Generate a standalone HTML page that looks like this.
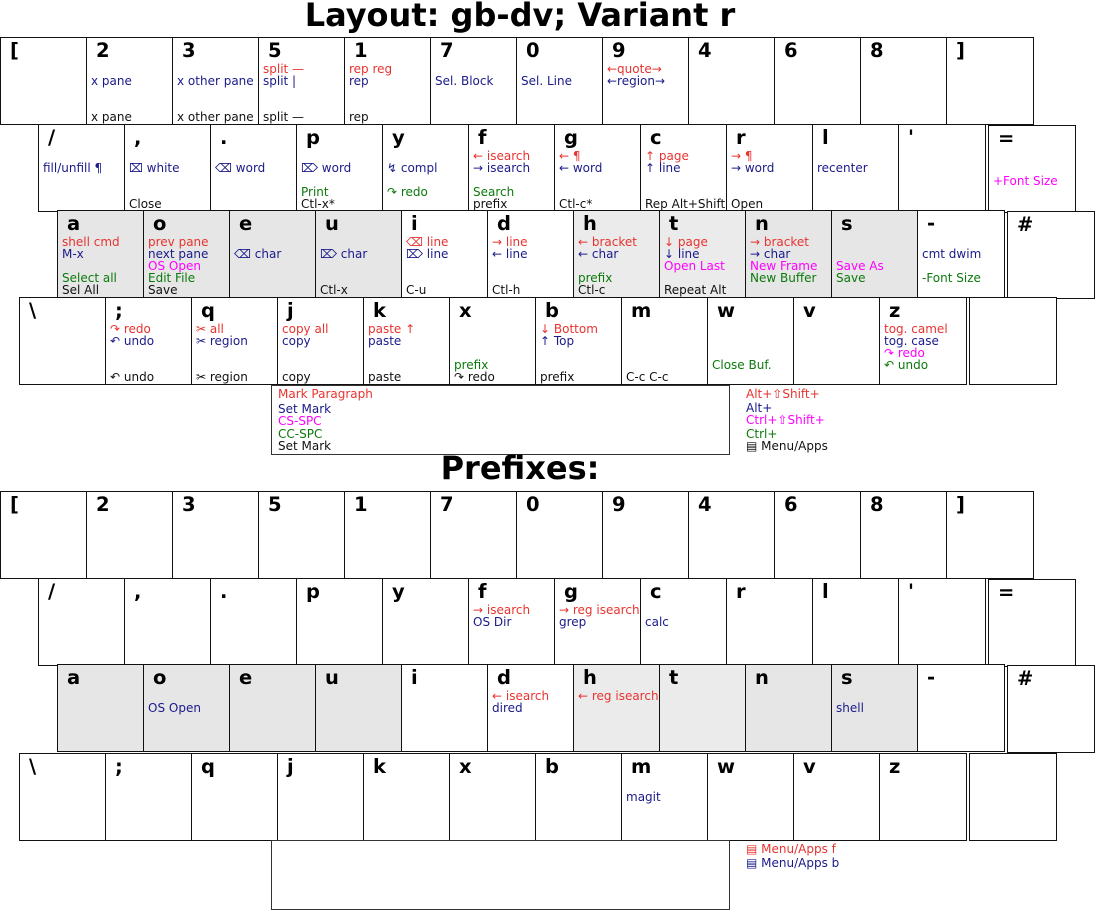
<!DOCTYPE html>
<html><head><meta charset="utf-8"><style>
body{margin:0;width:1096px;height:910px;background:#fff;position:relative;overflow:hidden;font-family:"DejaVu Sans","Liberation Sans",sans-serif}
.k{position:absolute;width:88px;height:88px;box-sizing:border-box;border:1.5px solid #111;background:#fff}
.gy{background:#e6e6e6}
.L{position:absolute;left:9px;top:0;font-weight:bold;font-size:19.5px;line-height:26px;color:#000}
.t{position:absolute;left:4px;font-size:12px;line-height:12px;white-space:nowrap}
.r{color:#e8332f}.b{color:#1a1a8a}.m{color:#f0f}.g{color:#0b7a0b}.x{color:#111}
.l1{top:25px}.l2{top:37px}.l3{top:49px}.l4{top:61px}.l5{top:73px}
.sp{position:absolute;left:271px;width:459px;height:70px;box-sizing:border-box;border:1px solid #333;background:#fff}
.a{position:absolute;font-size:12px;line-height:12px;white-space:nowrap}
h1{position:absolute;margin:0;left:0;width:1040px;text-align:center;font-size:32px;font-weight:bold;line-height:32px}
</style></head><body>
<h1 style="top:-1px">Layout: gb-dv; Variant r</h1>
<!-- KB1 row1 -->
<div class="k" style="left:0;top:37px"><span class="L">[</span></div>
<div class="k" style="left:86px;top:37px"><span class="L">2</span><span class="t b l2">x pane</span><span class="t x l5">x pane</span></div>
<div class="k" style="left:172px;top:37px"><span class="L">3</span><span class="t b l2">x other pane</span><span class="t x l5">x other pane</span></div>
<div class="k" style="left:258px;top:37px"><span class="L">5</span><span class="t r l1">split —</span><span class="t b l2">split |</span><span class="t x l5">split —</span></div>
<div class="k" style="left:344px;top:37px"><span class="L">1</span><span class="t r l1">rep reg</span><span class="t b l2">rep</span><span class="t x l5">rep</span></div>
<div class="k" style="left:430px;top:37px"><span class="L">7</span><span class="t b l2">Sel. Block</span></div>
<div class="k" style="left:516px;top:37px"><span class="L">0</span><span class="t b l2">Sel. Line</span></div>
<div class="k" style="left:602px;top:37px"><span class="L">9</span><span class="t r l1">←quote→</span><span class="t b l2">←region→</span></div>
<div class="k" style="left:688px;top:37px"><span class="L">4</span></div>
<div class="k" style="left:774px;top:37px"><span class="L">6</span></div>
<div class="k" style="left:860px;top:37px"><span class="L">8</span></div>
<div class="k" style="left:946px;top:37px"><span class="L">]</span></div>
<!-- row2 -->
<div class="k" style="left:38px;top:124px"><span class="L">/</span><span class="t b l2">fill/unfill ¶</span></div>
<div class="k" style="left:124px;top:124px"><span class="L">,</span><span class="t b l2">⌧ white</span><span class="t x l5">Close</span></div>
<div class="k" style="left:210px;top:124px"><span class="L">.</span><span class="t b l2">⌫ word</span></div>
<div class="k" style="left:296px;top:124px"><span class="L">p</span><span class="t b l2">⌦ word</span><span class="t g l4">Print</span><span class="t x l5">Ctl-x*</span></div>
<div class="k" style="left:382px;top:124px"><span class="L">y</span><span class="t b l2">↯ compl</span><span class="t g l4">↷ redo</span></div>
<div class="k" style="left:468px;top:124px"><span class="L">f</span><span class="t r l1">← isearch</span><span class="t b l2">→ isearch</span><span class="t g l4">Search</span><span class="t x l5">prefix</span></div>
<div class="k" style="left:554px;top:124px"><span class="L">g</span><span class="t r l1">← ¶</span><span class="t b l2">← word</span><span class="t x l5">Ctl-c*</span></div>
<div class="k" style="left:640px;top:124px"><span class="L">c</span><span class="t r l1">↑ page</span><span class="t b l2">↑ line</span><span class="t x l5">Rep Alt+Shift</span></div>
<div class="k" style="left:726px;top:124px"><span class="L">r</span><span class="t r l1">→ ¶</span><span class="t b l2">→ word</span><span class="t x l5">Open</span></div>
<div class="k" style="left:812px;top:124px"><span class="L">l</span><span class="t b l2">recenter</span></div>
<div class="k" style="left:898px;top:124px"><span class="L">'</span></div>
<div class="k" style="left:988px;top:125px"><span class="L">=</span><span class="t m l3">+Font Size</span></div>
<!-- row3 -->
<div class="k gy" style="left:57px;top:210px"><span class="L">a</span><span class="t r l1">shell cmd</span><span class="t b l2">M-x</span><span class="t g l4">Select all</span><span class="t x l5">Sel All</span></div>
<div class="k gy" style="left:143px;top:210px"><span class="L">o</span><span class="t r l1">prev pane</span><span class="t b l2">next pane</span><span class="t m l3">OS Open</span><span class="t g l4">Edit File</span><span class="t x l5">Save</span></div>
<div class="k gy" style="left:229px;top:210px"><span class="L">e</span><span class="t b l2">⌫ char</span></div>
<div class="k gy" style="left:315px;top:210px"><span class="L">u</span><span class="t b l2">⌦ char</span><span class="t x l5">Ctl-x</span></div>
<div class="k" style="left:401px;top:210px"><span class="L">i</span><span class="t r l1">⌫ line</span><span class="t b l2">⌦ line</span><span class="t x l5">C-u</span></div>
<div class="k" style="left:487px;top:210px"><span class="L">d</span><span class="t r l1">→ line</span><span class="t b l2">← line</span><span class="t x l5">Ctl-h</span></div>
<div class="k gy" style="left:573px;top:210px;background:#ebebeb"><span class="L">h</span><span class="t r l1">← bracket</span><span class="t b l2">← char</span><span class="t g l4">prefix</span><span class="t x l5">Ctl-c</span></div>
<div class="k gy" style="left:659px;top:210px;background:#ebebeb"><span class="L">t</span><span class="t r l1">↓ page</span><span class="t b l2">↓ line</span><span class="t m l3">Open Last</span><span class="t x l5">Repeat Alt</span></div>
<div class="k gy" style="left:745px;top:210px"><span class="L">n</span><span class="t r l1">→ bracket</span><span class="t b l2">→ char</span><span class="t m l3">New Frame</span><span class="t g l4">New Buffer</span></div>
<div class="k gy" style="left:831px;top:210px"><span class="L">s</span><span class="t m l3">Save As</span><span class="t g l4">Save</span></div>
<div class="k" style="left:917px;top:210px"><span class="L">-</span><span class="t b l2">cmt dwim</span><span class="t g l4">-Font Size</span></div>
<div class="k" style="left:1007px;top:211px"><span class="L">#</span></div>
<!-- row4 -->
<div class="k" style="left:19px;top:297px"><span class="L">\</span></div>
<div class="k" style="left:105px;top:297px"><span class="L">;</span><span class="t r l1">↷ redo</span><span class="t b l2">↶ undo</span><span class="t x l5">↶ undo</span></div>
<div class="k" style="left:191px;top:297px"><span class="L">q</span><span class="t r l1">✂ all</span><span class="t b l2">✂ region</span><span class="t x l5">✂ region</span></div>
<div class="k" style="left:277px;top:297px"><span class="L">j</span><span class="t r l1">copy all</span><span class="t b l2">copy</span><span class="t x l5">copy</span></div>
<div class="k" style="left:363px;top:297px"><span class="L">k</span><span class="t r l1">paste ↑</span><span class="t b l2">paste</span><span class="t x l5">paste</span></div>
<div class="k" style="left:449px;top:297px"><span class="L">x</span><span class="t g l4">prefix</span><span class="t x l5">↷ redo</span></div>
<div class="k" style="left:535px;top:297px"><span class="L">b</span><span class="t r l1">↓ Bottom</span><span class="t b l2">↑ Top</span><span class="t x l5">prefix</span></div>
<div class="k" style="left:621px;top:297px"><span class="L">m</span><span class="t x l5">C-c C-c</span></div>
<div class="k" style="left:707px;top:297px"><span class="L">w</span><span class="t g l4">Close Buf.</span></div>
<div class="k" style="left:793px;top:297px"><span class="L">v</span></div>
<div class="k" style="left:879px;top:297px"><span class="L">z</span><span class="t r l1">tog. camel</span><span class="t b l2">tog. case</span><span class="t m l3">↷ redo</span><span class="t g l4">↶ undo</span></div>
<div class="k" style="left:969px;top:297px"></div>
<div class="sp" style="top:385px"></div>
<div class="a r" style="left:278px;top:388px">Mark Paragraph</div>
<div class="a b" style="left:278px;top:403px">Set Mark</div>
<div class="a m" style="left:278px;top:415px">CS-SPC</div>
<div class="a g" style="left:278px;top:428px">CC-SPC</div>
<div class="a x" style="left:278px;top:440px">Set Mark</div>
<div class="a r" style="left:746px;top:388px">Alt+⇧Shift+</div>
<div class="a b" style="left:746px;top:402px">Alt+</div>
<div class="a m" style="left:746px;top:414px">Ctrl+⇧Shift+</div>
<div class="a g" style="left:746px;top:428px">Ctrl+</div>
<div class="a x" style="left:746px;top:440px">▤ Menu/Apps</div>

<h1 style="top:452px">Prefixes:</h1>
<!-- KB2 row1 -->
<div class="k" style="left:0;top:491px"><span class="L">[</span></div>
<div class="k" style="left:86px;top:491px"><span class="L">2</span></div>
<div class="k" style="left:172px;top:491px"><span class="L">3</span></div>
<div class="k" style="left:258px;top:491px"><span class="L">5</span></div>
<div class="k" style="left:344px;top:491px"><span class="L">1</span></div>
<div class="k" style="left:430px;top:491px"><span class="L">7</span></div>
<div class="k" style="left:516px;top:491px"><span class="L">0</span></div>
<div class="k" style="left:602px;top:491px"><span class="L">9</span></div>
<div class="k" style="left:688px;top:491px"><span class="L">4</span></div>
<div class="k" style="left:774px;top:491px"><span class="L">6</span></div>
<div class="k" style="left:860px;top:491px"><span class="L">8</span></div>
<div class="k" style="left:946px;top:491px"><span class="L">]</span></div>
<!-- row2 -->
<div class="k" style="left:38px;top:578px"><span class="L">/</span></div>
<div class="k" style="left:124px;top:578px"><span class="L">,</span></div>
<div class="k" style="left:210px;top:578px"><span class="L">.</span></div>
<div class="k" style="left:296px;top:578px"><span class="L">p</span></div>
<div class="k" style="left:382px;top:578px"><span class="L">y</span></div>
<div class="k" style="left:468px;top:578px"><span class="L">f</span><span class="t r l1">→ isearch</span><span class="t b l2">OS Dir</span></div>
<div class="k" style="left:554px;top:578px"><span class="L">g</span><span class="t r l1">→ reg isearch</span><span class="t b l2">grep</span></div>
<div class="k" style="left:640px;top:578px"><span class="L">c</span><span class="t b l2">calc</span></div>
<div class="k" style="left:726px;top:578px"><span class="L">r</span></div>
<div class="k" style="left:812px;top:578px"><span class="L">l</span></div>
<div class="k" style="left:898px;top:578px"><span class="L">'</span></div>
<div class="k" style="left:988px;top:579px"><span class="L">=</span></div>
<!-- row3 -->
<div class="k gy" style="left:57px;top:664px"><span class="L">a</span></div>
<div class="k gy" style="left:143px;top:664px"><span class="L">o</span><span class="t b l2">OS Open</span></div>
<div class="k gy" style="left:229px;top:664px"><span class="L">e</span></div>
<div class="k gy" style="left:315px;top:664px"><span class="L">u</span></div>
<div class="k" style="left:401px;top:664px"><span class="L">i</span></div>
<div class="k" style="left:487px;top:664px"><span class="L">d</span><span class="t r l1">← isearch</span><span class="t b l2">dired</span></div>
<div class="k gy" style="left:573px;top:664px;background:#ebebeb"><span class="L">h</span><span class="t r l1">← reg isearch</span></div>
<div class="k gy" style="left:659px;top:664px;background:#ebebeb"><span class="L">t</span></div>
<div class="k gy" style="left:745px;top:664px"><span class="L">n</span></div>
<div class="k gy" style="left:831px;top:664px"><span class="L">s</span><span class="t b l2">shell</span></div>
<div class="k" style="left:917px;top:664px"><span class="L">-</span></div>
<div class="k" style="left:1007px;top:665px"><span class="L">#</span></div>
<!-- row4 -->
<div class="k" style="left:19px;top:753px"><span class="L">\</span></div>
<div class="k" style="left:105px;top:753px"><span class="L">;</span></div>
<div class="k" style="left:191px;top:753px"><span class="L">q</span></div>
<div class="k" style="left:277px;top:753px"><span class="L">j</span></div>
<div class="k" style="left:363px;top:753px"><span class="L">k</span></div>
<div class="k" style="left:449px;top:753px"><span class="L">x</span></div>
<div class="k" style="left:535px;top:753px"><span class="L">b</span></div>
<div class="k" style="left:621px;top:753px"><span class="L">m</span><span class="t b l2">magit</span></div>
<div class="k" style="left:707px;top:753px"><span class="L">w</span></div>
<div class="k" style="left:793px;top:753px"><span class="L">v</span></div>
<div class="k" style="left:879px;top:753px"><span class="L">z</span></div>
<div class="k" style="left:969px;top:753px"></div>
<div class="sp" style="top:840px"></div>
<div class="a r" style="left:746px;top:843px">▤ Menu/Apps f</div>
<div class="a b" style="left:746px;top:857px">▤ Menu/Apps b</div>
</body></html>
